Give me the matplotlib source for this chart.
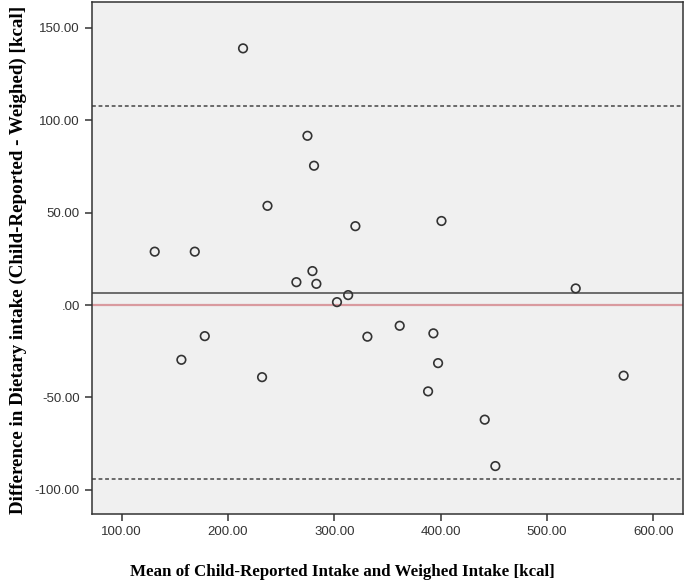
import matplotlib
matplotlib.use("Agg")
import matplotlib.pyplot as plt
from matplotlib.ticker import FuncFormatter

# ==========================================
# DATA
# ==========================================
mean_intake = [214.1, 131.0, 168.7, 237.1, 264.3,
               156.1, 178.1, 232.0,
               283.1, 313.0, 302.5, 527.1, 331.1, 361.5, 393.2,
               397.6, 388.2, 441.5, 451.5, 572.2,
               274.7, 280.9, 319.8, 400.8, 279.4]
diff_intake = [138.9, 28.9, 28.9, 53.7, 12.4,
               -29.6, -16.8, -39.0,
               11.5, 5.4, 1.6, 9.0, -17.1, -11.2, -15.3,
               -31.4, -46.7, -62.0, -87.1, -38.2,
               91.6, 75.4, 42.7, 45.5, 18.4]
mean_diff = 6.8
upper_loa = 107.7
lower_loa = -93.9

x_ticks = [100, 200, 300, 400, 500, 600]
y_ticks = [-100, -50, 0, 50, 100, 150]


def fmt(v, pos):
    s = "%.2f" % v
    # SPSS style: zero printed as ".00"
    if s == "0.00" or s == "-0.00":
        return ".00"
    return s


fig = plt.figure(figsize=(6.85, 5.84), dpi=100)
ax = fig.add_axes([0.134, 0.12, 0.863, 0.8766])
ax.set_facecolor("#f0f0f0")

# reference lines
ax.axhline(upper_loa, color="#444444", lw=1.1, ls=(0, (2.5, 1.8)))
ax.axhline(lower_loa, color="#444444", lw=1.1, ls=(0, (2.5, 1.8)))
ax.axhline(mean_diff, color="#555555", lw=1.2)
ax.axhline(0, color="#d99a9f", lw=1.6)

ax.scatter(mean_intake, diff_intake, s=38, facecolors="none",
           edgecolors="#333333", linewidths=1.2, zorder=3)

ax.set_xlim(71.8, 628)
ax.set_ylim(-113, 164)
ax.set_xticks(x_ticks)
ax.set_yticks(y_ticks)
ax.xaxis.set_major_formatter(FuncFormatter(fmt))
ax.yaxis.set_major_formatter(FuncFormatter(fmt))

for sp in ax.spines.values():
    sp.set_color("#333333")
    sp.set_linewidth(1.1)

ax.tick_params(axis="both", labelsize=9.5, colors="#333333", length=5,
               width=1.1, labelcolor="#333333")
for lab in ax.get_xticklabels() + ax.get_yticklabels():
    lab.set_family("Liberation Sans")

# axis titles placed in figure coords (SPSS centres x title on the page)
fig.text(0.5, 1 - 572 / 584,
         "Mean of Child-Reported Intake and Weighed Intake [kcal]",
         family="Liberation Serif", fontweight="bold", fontsize=12.2,
         ha="center", va="center")
fig.text(18 / 685, 1 - 260 / 584,
         "Difference in Dietary intake (Child-Reported - Weighed) [kcal]",
         family="Liberation Serif", fontweight="bold", fontsize=13.7,
         ha="center", va="center", rotation=90)

plt.savefig("out.png", dpi=100)
